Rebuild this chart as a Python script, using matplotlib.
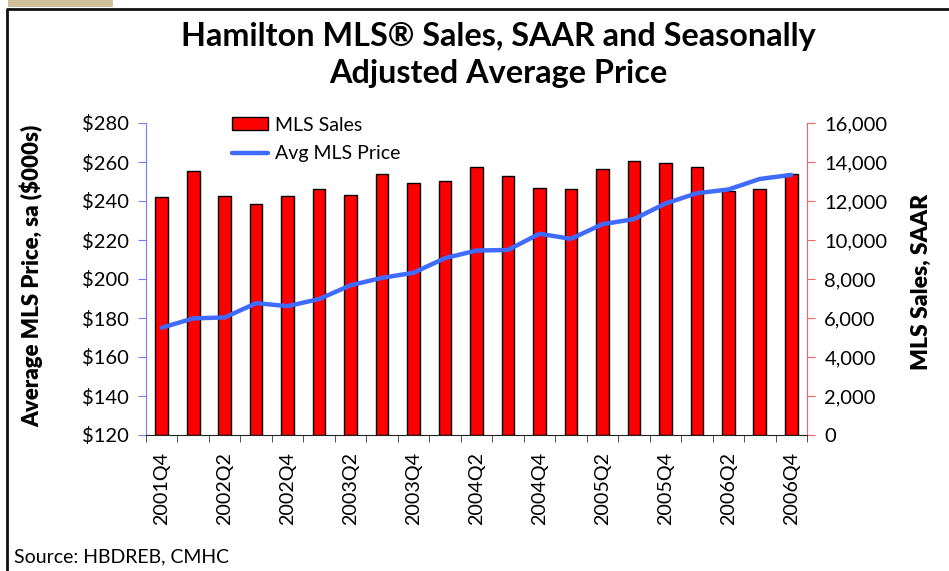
import numpy as np
import matplotlib
matplotlib.use('Agg')
import matplotlib.pyplot as plt
from matplotlib.patches import Rectangle
from matplotlib.lines import Line2D

quarters = ['2001Q4', '2002Q1', '2002Q2', '2002Q3', '2002Q4', '2003Q1', '2003Q2',
            '2003Q3', '2003Q4', '2004Q1', '2004Q2', '2004Q3', '2004Q4', '2005Q1',
            '2005Q2', '2005Q3', '2005Q4', '2006Q1', '2006Q2', '2006Q3', '2006Q4']
sales = [12200, 13550, 12260, 11850, 12260, 12590, 12310, 13390, 12930, 13030, 13730,
         13270, 12670, 12590, 13660, 14040, 13940, 13750, 12490, 12590, 13370]
price = [175.0, 179.8, 180.3, 187.6, 186.1, 189.7, 196.8, 200.6, 203.2, 210.7, 214.6,
         214.9, 223.2, 220.6, 228.1, 230.7, 238.7, 244.0, 245.9, 251.3, 253.4]

plt.rcParams['font.family'] = ['Lato', 'DejaVu Sans']

W, H = 949, 571
fig = plt.figure(figsize=(W / 100, H / 100), dpi=100)

# frame and tan tab at top-left
fig.patches.append(Rectangle((8 / W, 1 - 7 / H), 105 / W, 7 / H, transform=fig.transFigure,
                             facecolor='#cfc09a', edgecolor='none'))
fig.lines.append(Line2D([7 / W, 7 / W, 1], [0, 1 - 9 / H, 1 - 9 / H], transform=fig.transFigure,
                        color='#111111', lw=2))

ax = fig.add_axes([146 / W, 1 - 435 / H, 661 / W, 312 / H])
ax2 = ax.twinx()

x = np.arange(len(quarters))
ax2.bar(x, sales, width=0.4, color='#ff0000', edgecolor='black', linewidth=1, label='MLS Sales')
ax.plot(x, price, color='#3f6bff', lw=3.2, label='Avg MLS Price', solid_capstyle='round')

ax.set_zorder(ax2.get_zorder() + 1)
ax.patch.set_visible(False)

ax.set_xlim(-0.5, len(quarters) - 0.5)
ax.set_ylim(120, 280)
ax2.set_ylim(0, 16000)
ax.set_yticks(range(120, 281, 20))
ax.set_yticklabels(['$%d' % v for v in range(120, 281, 20)])
ax2.set_yticks(range(0, 16001, 2000))
ax2.set_yticklabels(['{:,}'.format(v) for v in range(0, 16001, 2000)])

ax.set_xticks(x[::2])
ax.set_xticklabels(quarters[::2], rotation=90, fontsize=14.2)
ax.set_xticks(np.arange(-0.5, len(quarters), 1), minor=True)
ax.tick_params(axis='x', which='major', length=0, pad=12)
ax.tick_params(axis='x', which='minor', length=5, color='#333333', direction='out')
ax.tick_params(axis='y', colors='#6f7fff', labelcolor='black', labelsize=14.5, length=5.5, pad=7)
ax2.tick_params(axis='y', colors='#ff6060', labelcolor='black', labelsize=14.5, length=5.5, pad=7)
ax2.tick_params(axis='x', length=0)

for a in (ax, ax2):
    a.spines['top'].set_visible(False)
ax.spines['right'].set_visible(False)
ax2.spines['left'].set_visible(False)
ax.spines['left'].set_color('#6f7fff')
ax2.spines['right'].set_color('#ff6060')
ax2.spines['bottom'].set_visible(False)
ax.spines['bottom'].set_color('#222222')

ax.set_ylabel('Average MLS Price, sa ($000s)', fontsize=16, fontweight='heavy')
ax2.set_ylabel('MLS Sales, SAAR', fontsize=16.5, fontweight='heavy', rotation=90)
ax.yaxis.set_label_coords((43 - 146) / 661, 0.51)
ax2.yaxis.set_label_coords((911 - 146) / 661, 0.49)

h1, l1 = ax2.get_legend_handles_labels()
h2, l2 = ax.get_legend_handles_labels()
ax.legend(h1 + h2, l1 + l2, loc='upper left', bbox_to_anchor=(0.118, 1.045), frameon=False,
          fontsize=14, handlelength=1.85, handleheight=0.65, handletextpad=0.35, labelspacing=0.6,
          borderaxespad=0)

fig.text(498 / W, 1 - 55 / H, 'Hamilton MLS\u00ae Sales, SAAR and Seasonally\nAdjusted Average Price',
         ha='center', va='center', fontsize=23.3, fontweight='bold', linespacing=1.3)
fig.text(14 / W, 1 - 557 / H, 'Source: HBDREB, CMHC', ha='left', va='center', fontsize=14)

fig.savefig('out.png', dpi=100)
